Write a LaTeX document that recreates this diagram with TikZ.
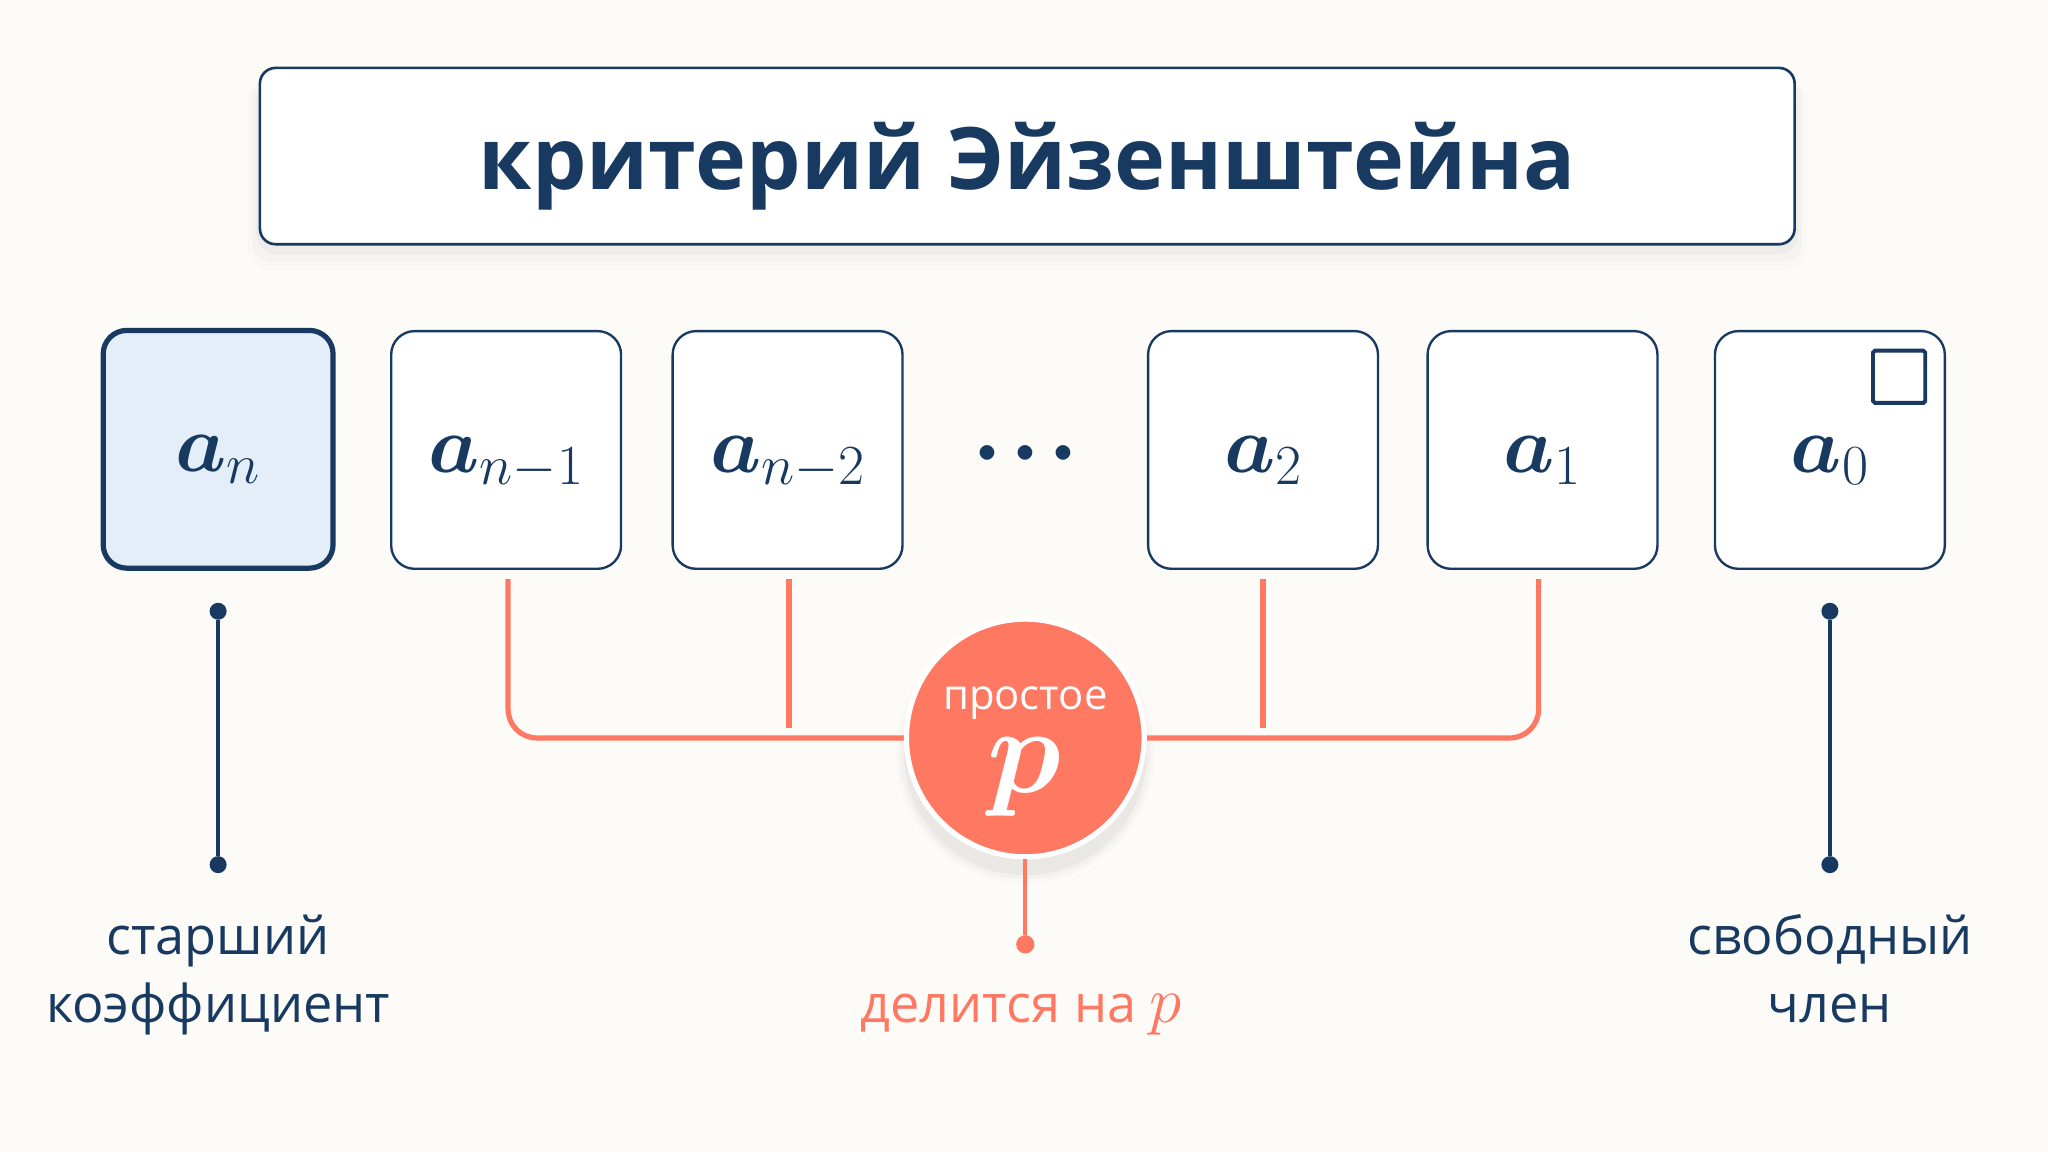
\RequirePackage{fix-cm}
\documentclass[tikz,border=0pt]{standalone}
\usepackage{amsmath}
\usepackage{bm}
\usepackage{fontspec}
\setmainfont{Open Sans}
\usetikzlibrary{calc}
\definecolor{bg}{HTML}{FCFBF8}
\definecolor{navy}{HTML}{183A61}
\definecolor{lightblue}{HTML}{E3EEF8}
\definecolor{coral}{HTML}{FF7862}
\begin{document}
\begin{tikzpicture}[x=1pt,y=-1pt,
  coef/.style={draw=navy, line width=1.8pt, fill=white, rounded corners=18pt,
    minimum width=176pt, minimum height=182pt, inner sep=0pt, text=navy,
    text height=34pt, text depth=0pt,
    font=\fontsize{62}{70}\selectfont},
  conn/.style={draw=coral, line width=4pt},
  navline/.style={draw=navy, line width=3pt},
  ndot/.style={circle, fill=navy, minimum size=13pt, inner sep=0pt},
  cdot/.style={circle, fill=coral, minimum size=14pt, inner sep=0pt},
  lbl/.style={text=navy, anchor=base, font=\fontsize{40}{53}\selectfont}]
\useasboundingbox[fill=bg] (0,0) rectangle (1568,882);
% title shadow
\foreach \d/\o in {18/0.012,12/0.018,6/0.028}{
  \fill[black, opacity=\o, rounded corners=16pt] (199-\d/2,60) rectangle (1374+\d/2,189+\d);
}
\node[draw=navy, line width=2pt, fill=white, rounded corners=12pt,
  minimum width=1175pt, minimum height=135pt] (titlebox) at (786.5,119.5) {};
\node[text=navy, anchor=base, font=\bfseries\fontsize{66}{80}\selectfont] (title) at (786.5,145) {критерий Эйзенштейна};
% coefficient boxes
\node[coef, fill=lightblue, line width=4pt] (an) at (167,344) {$\bm{a}_{n}$};
\node[coef] (am1) at (387.5,344.5) {$\bm{a}_{n-1}$};
\node[coef] (am2) at (603,344.5) {$\bm{a}_{n-2}$};
\node[text=navy, anchor=base, font=\fontsize{72}{72}\selectfont] (dots) at (785,365) {${\bm{\cdot}}\mkern1.5mu{\bm{\cdot}}\mkern1.5mu{\bm{\cdot}}$};
\node[coef] (a2) at (967,344.5) {$\bm{a}_{2}$};
\node[coef] (a1) at (1181,344.5) {$\bm{a}_{1}$};
\node[coef] (a0) at (1401,344.5) {$\bm{a}_{0}$};
\node[draw=navy, line width=3pt, rounded corners=1.5pt, minimum size=40pt, inner sep=0pt] (sq) at (1454,288.5) {};
% circle shadow
\foreach \r/\o in {99/0.015,96/0.025,93/0.035}{
  \fill[black, opacity=\o] (785,577) circle (\r);
}
% connectors
\draw[conn, rounded corners=22pt] ($(am1.south)+(1.5,7)$) |- (785,565);
\draw[conn, rounded corners=22pt] (785,565) -| ($(a1.south)+(-3,7)$);
\draw[conn] ($(am2.south)+(1,7)$) -- ($(am2.south)+(1,121)$);
\draw[conn] ($(a2.south)+(0,7)$) -- ($(a2.south)+(0,121)$);
\node[circle, fill=coral, draw=white, line width=4pt, minimum size=182pt, inner sep=0pt] (pc) at (785,565) {};
\node[text=white, anchor=base, inner sep=0pt, font=\fontsize{32}{36}\selectfont] (pword) at (785,543) {простое};
\node[text=white, anchor=base, inner sep=0pt, font=\fontsize{94}{100}\selectfont] (psym) at (784,607) {$\bm{p}$};
\node[cdot] (pd) at (785,723) {};
\draw[conn, line width=3pt] (pc.south) -- (pd);
\node[text=coral, anchor=base, font=\fontsize{40}{53}\selectfont] (plab) at (782,783) {делится на {\fontsize{50}{53}\selectfont$p$}};
% left / right annotations
\node[ndot] (ld1) at (167,468) {};
\node[ndot] (ld2) at (167,662) {};
\draw[navline] (ld1) -- (ld2);
\node[lbl] (llab1) at (167,731) {старший};
\node[lbl] (llab2) at (167,783) {коэффициент};
\node[ndot] (rd1) at (1401,468) {};
\node[ndot] (rd2) at (1401,662) {};
\draw[navline] (rd1) -- (rd2);
\node[lbl] (rlab1) at (1401,731) {свободный};
\node[lbl] (rlab2) at (1401,783) {член};
\end{tikzpicture}
\end{document}
